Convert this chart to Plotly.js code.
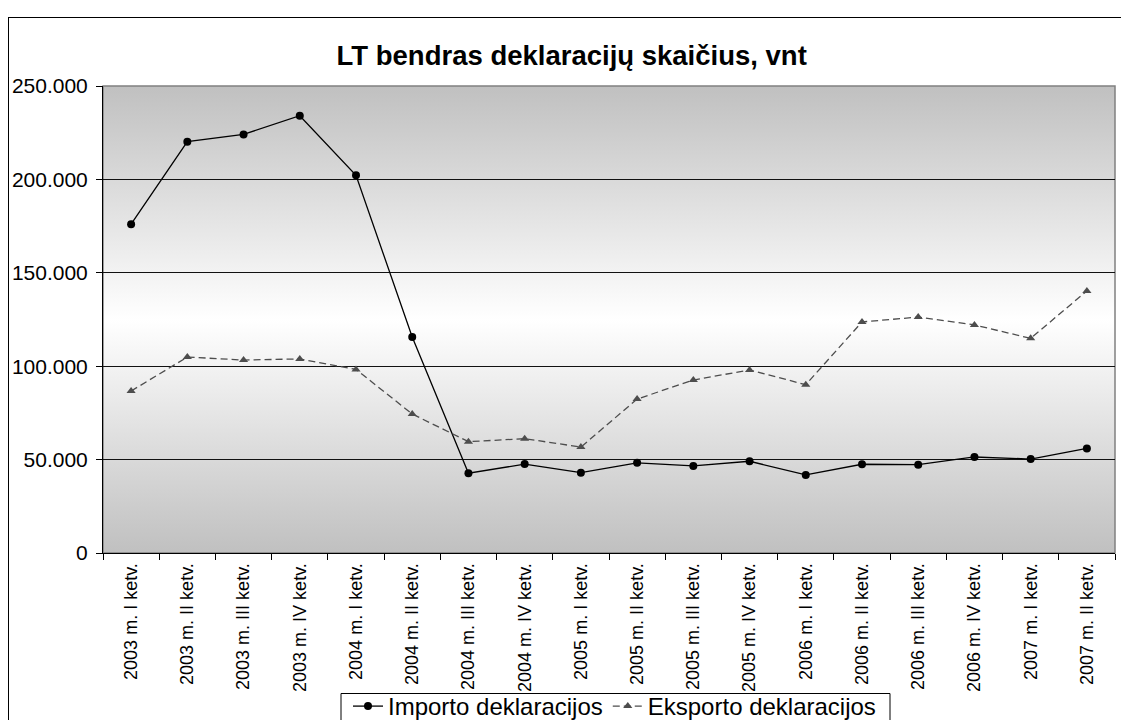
<!DOCTYPE html>
<html>
<head>
<meta charset="utf-8">
<script src="https://cdn.plot.ly/plotly-3.0.1.min.js"></script>
<style>
  html, body { margin: 0; padding: 0; background: #fff; overflow: hidden; }
  #frame { position: absolute; left: 8px; top: 17px; width: 1300px; height: 900px;
           border-left: 1px solid #000; border-top: 1px solid #000; box-sizing: border-box; }
  #chart { position: absolute; left: 0; top: 0; width: 1121px; height: 720px; }
</style>
</head>
<body>
<div id="frame"></div>
<div id="chart"></div>
<script>
const categories = [
  "2003 m. I ketv.", "2003 m. II ketv.", "2003 m. III ketv.", "2003 m. IV ketv.",
  "2004 m. I ketv.", "2004 m. II ketv.", "2004 m. III ketv.", "2004 m. IV ketv.",
  "2005 m. I ketv.", "2005 m. II ketv.", "2005 m. III ketv.", "2005 m. IV ketv.",
  "2006 m. I ketv.", "2006 m. II ketv.", "2006 m. III ketv.", "2006 m. IV ketv.",
  "2007 m. I ketv.", "2007 m. II ketv."
];
const importo = [176000, 220200, 224100, 234100, 202200, 115600, 42700, 47600, 43000,
                 48300, 46600, 49100, 41800, 47500, 47300, 51400, 50300, 56000];
const eksporto = [86700, 104900, 103300, 103900, 98300, 74400, 59600, 61200, 56700,
                  82400, 92600, 98000, 90100, 123700, 126300, 122100, 114900, 140300];
const yTicks = [0, 50000, 100000, 150000, 200000, 250000];

const W = 1121, H = 720;
const M = { l: 103, r: 6, t: 86, b: 167 };
const plotW = W - M.l - M.r, plotH = H - M.t - M.b;
const px2paperX = p => (p - M.l) / plotW;
const px2paperY = p => (H - M.b - p) / plotH;

const gradSvg = '<svg xmlns="http://www.w3.org/2000/svg" width="100" height="100" viewBox="0 0 100 100" preserveAspectRatio="none">' +
  '<defs><linearGradient id="g" x1="0" y1="0" x2="0" y2="1">' +
  '<stop offset="0" stop-color="#c0c0c0"/><stop offset="0.5" stop-color="#ffffff"/><stop offset="1" stop-color="#c0c0c0"/>' +
  '</linearGradient></defs><rect width="100" height="100" fill="url(#g)"/></svg>';
const gradSrc = 'data:image/svg+xml;base64,' + btoa(gradSvg);

const traces = [
  {
    x: categories, y: importo, type: 'scatter', mode: 'lines+markers',
    name: 'Importo deklaracijos',
    line: { color: '#000000', width: 1.3 },
    marker: { symbol: 'circle', size: 8, color: '#000000' }
  },
  {
    x: categories, y: eksporto, type: 'scatter', mode: 'lines+markers',
    name: 'Eksporto deklaracijos',
    line: { color: '#4d4d4d', width: 1.3, dash: '7px,4px' },
    marker: { symbol: 'triangle-up', size: 8, color: '#4d4d4d' }
  }
];

const layout = {
  width: W, height: H,
  margin: { l: M.l, r: M.r, t: M.t, b: M.b, pad: 0 },
  paper_bgcolor: 'rgba(0,0,0,0)',
  plot_bgcolor: 'rgba(0,0,0,0)',
  separators: ',.',
  font: { family: 'Liberation Sans, Arial, sans-serif', color: '#000' },
  title: {
    text: 'LT bendras deklaracijų skaičius, vnt',
    font: { size: 27.5, weight: 'bold', color: '#000' },
    xref: 'container', yref: 'container', x: 0.51, xanchor: 'center',
    y: 1 - 55 / H, yanchor: 'middle'
  },
  xaxis: {
    type: 'category',
    tickangle: -90,
    tickson: 'boundaries',
    ticks: 'outside', ticklen: 6, tickcolor: '#000', tickwidth: 1,
    showline: true, linecolor: '#000', linewidth: 1,
    showgrid: false, zeroline: false,
    tickfont: { size: 18, color: '#000' },
    ticklabelstandoff: 2,
    range: [-0.5, categories.length - 0.5],
    fixedrange: true
  },
  yaxis: {
    range: [0, 250000],
    tickvals: yTicks,
    tickformat: ',d',
    ticks: 'outside', ticklen: 6, tickcolor: '#000', tickwidth: 1,
    showline: true, linecolor: '#000', linewidth: 1,
    showgrid: true, gridcolor: '#111', gridwidth: 1,
    zeroline: false,
    tickfont: { size: 21, color: '#000' },
    ticklabelstandoff: 4,
    fixedrange: true
  },
  images: [{
    source: gradSrc, xref: 'paper', yref: 'paper',
    x: 0, y: 1, sizex: 1, sizey: 1, xanchor: 'left', yanchor: 'top',
    sizing: 'stretch', layer: 'below'
  }],
  shapes: [
    {
      type: 'rect', xref: 'paper', yref: 'paper', x0: 0, x1: 1, y0: 0, y1: 1,
      line: { color: '#808080', width: 1.5 }, fillcolor: 'rgba(0,0,0,0)', layer: 'below'
    },
    {
      type: 'rect', xref: 'paper', yref: 'paper',
      x0: px2paperX(341), x1: px2paperX(890), y0: px2paperY(740), y1: px2paperY(693.5),
      line: { color: '#000', width: 1 }, fillcolor: '#ffffff', layer: 'above'
    }
  ],
  showlegend: true,
  legend: {
    orientation: 'h',
    xref: 'container', yref: 'container',
    x: 348 / W, y: 1 - 684 / H, xanchor: 'left', yanchor: 'top',
    bgcolor: 'rgba(0,0,0,0)', borderwidth: 0,
    font: { size: 24, color: '#000' },
    itemwidth: 30
  }
};

Plotly.newPlot('chart', traces, layout, { displayModeBar: false, staticPlot: true });
</script>
</body>
</html>
